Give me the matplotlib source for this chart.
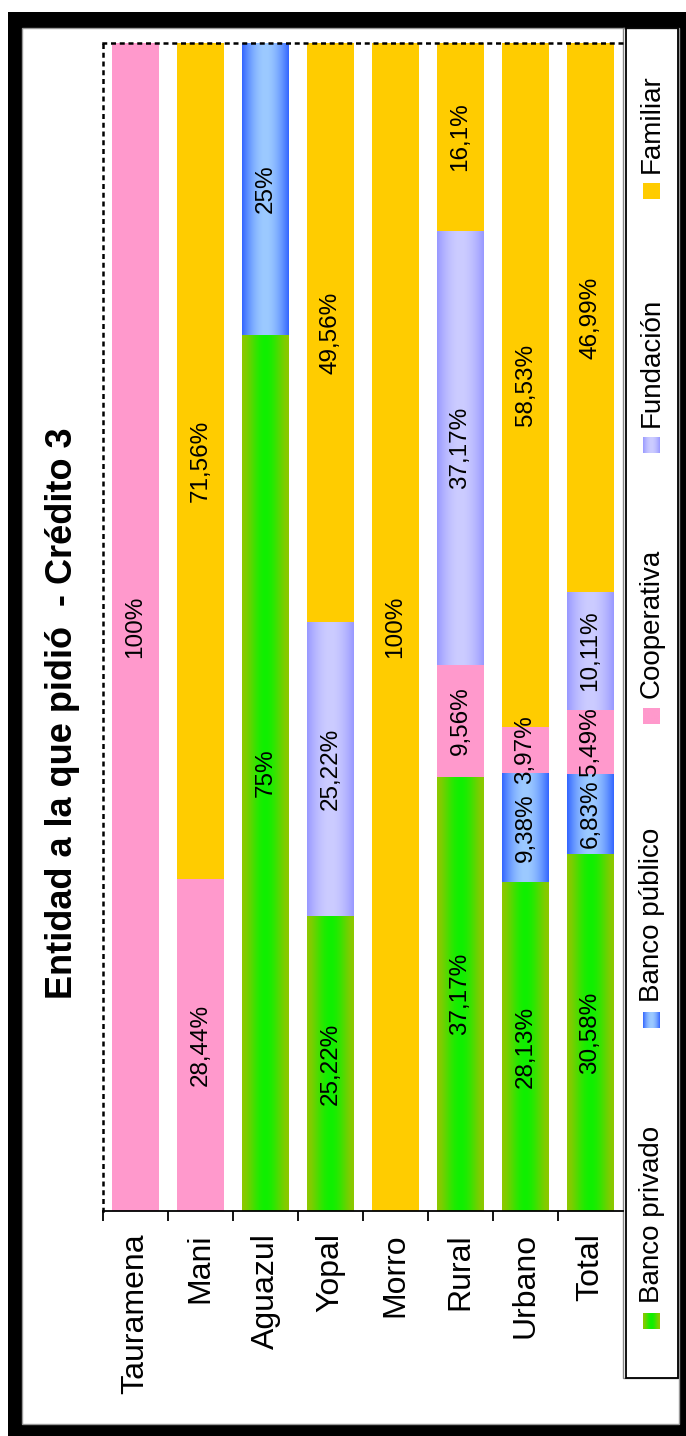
import numpy as np
import matplotlib
matplotlib.use('Agg')
import matplotlib.pyplot as plt
from matplotlib.patches import Rectangle

plt.rcParams['font.family'] = ['Liberation Sans', 'DejaVu Sans']

titulo = 'Entidad a la que pidió  - Crédito 3'
municipios = ['Tauramena', 'Mani', 'Aguazul', 'Yopal', 'Morro', 'Rural', 'Urbano', 'Total']
series = ['Banco privado', 'Banco público', 'Cooperativa', 'Fundación', 'Familiar']
banco_privado = [0, 0, 75, 25.22, 0, 37.17, 28.13, 30.58]
banco_publico = [0, 0, 25, 0, 0, 0, 9.38, 6.83]
cooperativa = [100, 28.44, 0, 0, 0, 9.56, 3.97, 5.49]
fundacion = [0, 0, 0, 25.22, 0, 37.17, 0, 10.11]
familiar = [0, 71.56, 0, 49.56, 100, 16.1, 58.53, 46.99]
valores = [banco_privado, banco_publico, cooperativa, fundacion, familiar]

# (borde, centro, forma) de cada serie: degradado a lo ancho de la barra
colores = [('#8cc800', '#10f000', 1.6),
           ('#3366ff', '#9ccaff', 0.9),
           ('#ff99cc', '#ff99cc', 1),
           ('#9999ff', '#ccccff', 0.9),
           ('#ffcc00', '#ffcc00', 1)]


def degradado(c_borde, c_centro, k, n=64):
    u = np.linspace(0, 1, n)
    t = np.sin(np.pi * u) ** k
    a = np.array(matplotlib.colors.to_rgb(c_borde))
    b = np.array(matplotlib.colors.to_rgb(c_centro))
    return (a[None, :] * (1 - t[:, None]) + b[None, :] * t[:, None])[None, :, :]


def etiqueta(v):
    return f'{v:g}'.replace('.', ',') + '%'


W, H = 686, 1436
fig = plt.figure(figsize=(W / 100, H / 100), dpi=100)
fig.patch.set_facecolor('white')

# fondo: marco de ventana, titulo y leyenda (coordenadas en pixeles)
bg = fig.add_axes([0, 0, 1, 1])
bg.set_zorder(0)
bg.axis('off')
bg.add_patch(Rectangle((8, 12), 700, 1440, facecolor='black', edgecolor='none'))
bg.add_patch(Rectangle((22, 28), 657, 1396, facecolor='white', edgecolor='#999999', lw=1))

bg.text(63, 713, titulo, rotation=90, ha='center', va='center',
        fontsize=26, fontweight='bold')

bg.add_patch(Rectangle((623, 28), 55, 1350, fill=False, edgecolor='#888888', lw=1))
bg.add_patch(Rectangle((626, 28), 52, 1350, fill=False, edgecolor='black', lw=1.3))
ley_marca = [1313, 1012, 708, 437, 183]
for nombre, (c1, c2, k), y0 in zip(series, colores, ley_marca):
    bg.imshow(degradado(c1, c2, k), extent=[643, 660, y0 + 16, y0], aspect='auto',
              interpolation='bilinear', zorder=3)
    bg.text(652, y0 - 10, nombre, rotation=90, ha='center', va='bottom', fontsize=20)
bg.set_xlim(0, W)
bg.set_ylim(H, 0)

# grafico de barras apiladas
ax = fig.add_axes([103 / W, (H - 1211) / H, 520 / W, (1211 - 43) / H])
ax.set_zorder(1)
ax.patch.set_alpha(0)
x = np.arange(len(municipios))
base = np.zeros(len(municipios))
for nombre, vals, (c1, c2, k) in zip(series, valores, colores):
    vals = np.array(vals, dtype=float)
    barras = ax.bar(x, vals, width=0.71, bottom=base, color=c1, edgecolor='none',
                    label=nombre, zorder=2)
    for rect, v in zip(barras, vals):
        if v <= 0:
            continue
        if c1 != c2:
            im = ax.imshow(degradado(c1, c2, k),
                           extent=[rect.get_x(), rect.get_x() + rect.get_width(),
                                   rect.get_y(), rect.get_y() + rect.get_height()],
                           aspect='auto', interpolation='bilinear', zorder=2.5)
            im.set_clip_path(rect)
        ax.text(rect.get_x() + rect.get_width() / 2, rect.get_y() + rect.get_height() / 2,
                etiqueta(v), rotation=90, ha='center', va='center', fontsize=17.5, zorder=4)
    base += vals

ax.set_xlim(-0.5, len(municipios) - 0.5)
ax.set_ylim(0, 100)
ax.set_yticks([])
ax.set_xticks(x)
ax.set_xticklabels(municipios, rotation=90, va='top', ha='center', fontsize=23)
ax.set_xticks(np.arange(-0.5, len(municipios) - 1, 1), minor=True)
ax.tick_params(axis='x', which='major', length=0, pad=16)
ax.tick_params(axis='x', which='minor', length=7, width=1.3, color='black')
for lado in ['left', 'top']:
    ax.spines[lado].set_linestyle((0, (1, 2.5)))
    ax.spines[lado].set_linewidth(1.8)
ax.spines['right'].set_visible(False)
ax.spines['bottom'].set_linewidth(1.3)

fig.savefig('out.png', dpi=100)
